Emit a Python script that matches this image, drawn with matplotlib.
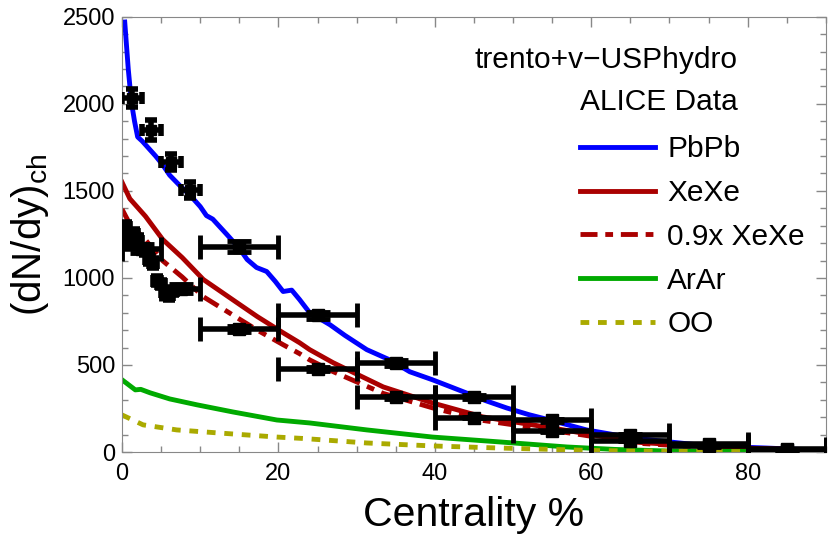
import matplotlib
matplotlib.use("Agg")
import matplotlib.pyplot as plt
from matplotlib.ticker import MultipleLocator

plt.rcParams['font.family'] = ['Liberation Sans', 'DejaVu Sans']

# model curves (trento+v-USPhydro)
pbpb_x = [0.35, 0.8, 1.2, 1.6, 2.0, 2.6, 3.4, 4.3, 5.2, 6.1, 7.4, 8.7, 10.0, 10.8, 11.6, 13.4, 15.0,
          16.0, 17.2, 18.5, 19.6, 20.6, 21.7, 22.7, 24.0, 26.6, 28.5, 31.3, 34.2, 36.8, 39.7, 42.0,
          44.0, 46.5, 49.2, 52.0, 54.7, 59.4, 65.3, 70.0, 73.9, 78.0, 82.4, 86.0, 90.0]
pbpb_y = [2470, 2200, 2010, 1900, 1810, 1785, 1745, 1700, 1650, 1590, 1530, 1475, 1410, 1358, 1338,
          1250, 1170, 1106, 1060, 1037, 980, 922, 930, 876, 800, 731, 670, 588, 530, 461, 415, 375,
          340, 295, 253, 215, 184, 127, 81, 58, 40, 30, 23, 16, 12]

xexe_x = [0, 1.0, 3.0, 5.2, 7.7, 10.4, 14.7, 17.3, 20.6, 22.7, 24.0, 27.0, 33.4, 39.7, 46.1,
          52.5, 58.9, 65.3, 72.0, 80.0, 90.0]
xexe_y = [1550, 1455, 1354, 1221, 1117, 991, 858, 778, 685, 628, 588, 513, 374, 282, 202,
          156, 109, 58, 38, 22, 10]
xexe_scaled_y = [0.9 * v for v in xexe_y]

arar_x = [0, 1.7, 2.4, 3.6, 6.1, 9.6, 14.2, 19.8, 24.0, 31.3, 39.7, 48.3, 56.9, 63.0, 69.6, 80.0, 90.0]
arar_y = [415, 357, 360, 340, 305, 271, 230, 184, 167, 127, 86, 58, 29, 15, 6, 3, 2]

oo_x = [0, 2.7, 7.0, 12.5, 19.8, 23.1, 31.3, 39.7, 48.3, 61.0, 70.0, 80.0, 90.0]
oo_y = [213, 156, 127, 109, 86, 78, 52, 35, 23, 8, 4, 2, 1]

# ALICE data, PbPb: fine central bins and 10% bins
pbpb_c_x = [1.25, 3.75, 6.25, 8.75]
pbpb_c_y = [2035, 1850, 1666, 1505]
pbpb_c_yerr = [52, 55, 48, 44]
pbpb_dat_x = [15, 25, 35, 45, 55, 65, 75, 85]
pbpb_dat_y = [1180, 786, 512, 318, 183, 96.3, 44.9, 17.5]
pbpb_dat_yerr = [31, 20, 15, 12, 8, 5.8, 3.4, 1.8]

# ALICE data, XeXe
xexe_dat_x = [2.5, 7.5, 15, 25, 35, 45, 55, 65, 75, 85]
xexe_dat_xerr = [2.5, 2.5, 5, 5, 5, 5, 5, 5, 5, 5]
xexe_dat_y = [1167, 939, 706, 478, 315, 198, 118, 64.7, 32, 13.3]
xexe_dat_yerr = [26, 24, 17, 11, 8, 5, 3, 2, 1.3, 0.9]

xexe_fine_x = [0.5, 0.5, 1.5, 2.0, 3.0, 3.5, 4.0, 4.5, 5.0, 5.5, 6.0, 6.5]
xexe_fine_y = [1290, 1210, 1250, 1215, 1160, 1110, 1085, 985, 965, 920, 900, 925]
xexe_fine_err = [30, 30, 30, 30, 30, 30, 30, 25, 25, 25, 25, 25]

fig = plt.figure(figsize=(8.3, 5.42), dpi=100)
ax = fig.add_axes([0.147, 0.166, 0.848, 0.803])

lw = 3.5
l1, = ax.plot(pbpb_x, pbpb_y, color='#0000FF', lw=lw)
l2, = ax.plot(xexe_x, xexe_y, color='#AA0000', lw=lw)
l3, = ax.plot(xexe_x, xexe_scaled_y, color='#AA0000', lw=lw, linestyle=(0, (3.5, 1.6, 1.6, 1.6)))
l4, = ax.plot(arar_x, arar_y, color='#00AA00', lw=lw)
l5, = ax.plot(oo_x, oo_y, color='#AAAA00', lw=lw, linestyle=(0, (1.8, 1.8)))

big = dict(fmt='s', color='black', ms=8.5, elinewidth=4, capsize=8.5, capthick=3.5, zorder=5)
small = dict(fmt='s', color='black', ms=7, elinewidth=4, capsize=4.5, capthick=4, zorder=5)
ax.errorbar(pbpb_dat_x, pbpb_dat_y, xerr=5, yerr=pbpb_dat_yerr, **big)
ax.errorbar(xexe_dat_x, xexe_dat_y, xerr=xexe_dat_xerr, yerr=xexe_dat_yerr, **big)
ax.errorbar(pbpb_c_x, pbpb_c_y, xerr=1.25, yerr=pbpb_c_yerr, **small)
ax.errorbar(xexe_fine_x, xexe_fine_y, xerr=0.5, yerr=xexe_fine_err, **small)

ax.set_xlim(0, 90)
ax.set_ylim(0, 2500)
ax.xaxis.set_major_locator(MultipleLocator(20))
ax.xaxis.set_minor_locator(MultipleLocator(5))
ax.yaxis.set_major_locator(MultipleLocator(500))
ax.yaxis.set_minor_locator(MultipleLocator(100))
ax.tick_params(which='both', direction='in', top=True, right=True, color='#888888',
               labelsize=17, width=1)
ax.tick_params(which='major', length=7)
ax.tick_params(which='minor', length=4)
ax.tick_params(axis='x', pad=8)
ax.tick_params(axis='y', pad=5)
for s in ax.spines.values():
    s.set_color('#888888')

ax.set_xlabel('Centrality %', fontsize=29.5, labelpad=8)
ax.set_ylabel(r'(dN/dy)$_{\mathregular{ch}}$', fontsize=29, labelpad=8)

ax.text(0.874, 0.90, 'trento+v\u2212USPhydro', transform=ax.transAxes, ha='right', va='center',
        fontsize=21.5)
ax.text(0.875, 0.805, 'ALICE Data', transform=ax.transAxes, ha='right', va='center', fontsize=21.5)
ax.legend([l1, l2, l3, l4, l5], ['PbPb', 'XeXe', '0.9x XeXe', 'ArAr', 'OO'],
          loc='upper left', bbox_to_anchor=(0.651, 0.728), frameon=False, fontsize=21.5,
          handlelength=2.5, handletextpad=0.42, labelspacing=0.53, borderpad=0, borderaxespad=0)

fig.savefig('out.png', dpi=100)
